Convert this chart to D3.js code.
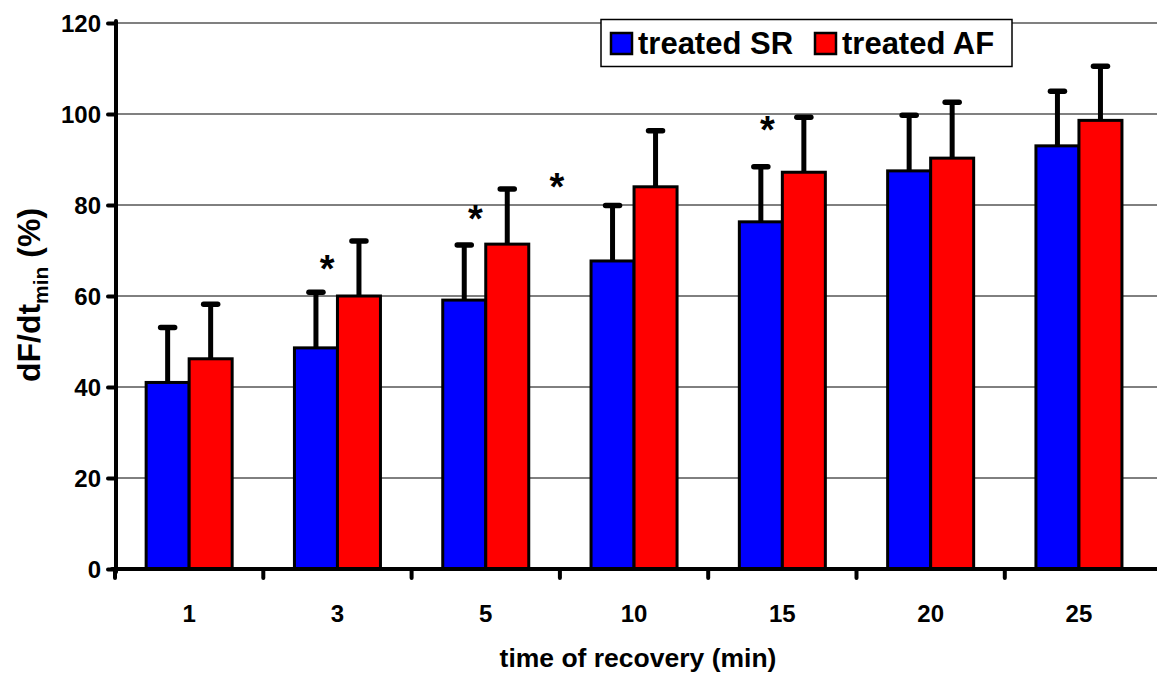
<!DOCTYPE html>
<html>
<head>
<meta charset="utf-8">
<script src="https://cdn.jsdelivr.net/npm/d3@7"></script>
<style>
  html, body { margin: 0; padding: 0; background: #fff; }
  svg { display: block; }
  text { font-family: "Liberation Sans", Arial, sans-serif; font-weight: bold; fill: #000; }
</style>
</head>
<body>
<svg id="chart" width="1157" height="673"></svg>
<script>
// ---- data ----
const categories = ["1", "3", "5", "10", "15", "20", "25"];
const seriesNames = ["treated SR", "treated AF"];
const seriesColors = ["#0000ff", "#ff0000"];
const srMean = [41.0, 48.6, 59.1, 67.7, 76.3, 87.5, 93.0];
const srSD   = [12.1, 12.2, 12.1, 12.2, 12.1, 12.2, 12.0];
const afMean = [46.2, 60.0, 71.4, 84.0, 87.2, 90.3, 98.6];
const afSD   = [12.0, 12.1, 12.1, 12.3, 12.1, 12.3, 11.9];
const yTicks = [0, 20, 40, 60, 80, 100, 120];
// significance markers: category, offset from category centre (fraction of step), value
const starCats   = ["3", "5", "5", "15"];
const starOffset = [-0.07, -0.07, 0.48, -0.10];
const starValue  = [66.8, 77.8, 84.8, 97.4];

// ---- layout ----
const svg = d3.select("#chart");
const mLeft = 116, mTop = 23, mBottom = 569;
const step = 148.3;
const mRight = 115 + step * categories.length;

const y = d3.scaleLinear().domain([0, 120]).range([mBottom, mTop]);
const x0 = d3.scaleBand().domain(categories).range([115, mRight])
  .paddingInner(0.42).paddingOuter(0.21);
const x1 = d3.scaleBand().domain(seriesNames).range([0, x0.bandwidth()]);
const center = c => x0(c) + x0.bandwidth() / 2;

// gridlines
svg.append("g").selectAll("line").data(yTicks.filter(d => d > 0)).join("line")
  .attr("x1", mLeft).attr("x2", 1157)
  .attr("y1", d => y(d)).attr("y2", d => y(d))
  .attr("stroke", d => d >= 100 ? "#808080" : "#000")
  .attr("stroke-width", d => d >= 100 ? 2 : 1);

// bars
const rows = categories.map((c, i) => ({
  cat: c,
  vals: [
    {s: seriesNames[0], v: srMean[i], e: srSD[i], col: seriesColors[0]},
    {s: seriesNames[1], v: afMean[i], e: afSD[i], col: seriesColors[1]}
  ]
}));

const groups = svg.append("g").selectAll("g").data(rows).join("g")
  .attr("transform", d => `translate(${x0(d.cat)},0)`);

groups.selectAll("rect").data(d => d.vals).join("rect")
  .attr("x", d => x1(d.s))
  .attr("width", x1.bandwidth())
  .attr("y", d => y(d.v))
  .attr("height", d => y(0) - y(d.v))
  .attr("fill", d => d.col)
  .attr("stroke", "#000").attr("stroke-width", 3);

// error bars
groups.selectAll("line.err").data(d => d.vals).join("line").attr("class", "err")
  .attr("x1", d => x1(d.s) + x1.bandwidth() / 2).attr("x2", d => x1(d.s) + x1.bandwidth() / 2)
  .attr("y1", d => y(d.v)).attr("y2", d => y(d.v + d.e))
  .attr("stroke", "#000").attr("stroke-width", 5);
groups.selectAll("line.cap").data(d => d.vals).join("line").attr("class", "cap")
  .attr("x1", d => x1(d.s) + x1.bandwidth() / 2 - 7).attr("x2", d => x1(d.s) + x1.bandwidth() / 2 + 7)
  .attr("y1", d => y(d.v + d.e)).attr("y2", d => y(d.v + d.e))
  .attr("stroke", "#000").attr("stroke-width", 5.5).attr("stroke-linecap", "round");

// stars
svg.append("g").selectAll("text").data(starCats.map((c, i) => ({c, o: starOffset[i], v: starValue[i]})))
  .join("text")
  .attr("x", d => center(d.c) + d.o * step)
  .attr("y", d => y(d.v) + 17)
  .attr("text-anchor", "middle")
  .attr("font-size", 38)
  .text("*");

// y axis
const yAxis = svg.append("g").attr("transform", `translate(${mLeft},0)`)
  .call(d3.axisLeft(y).tickValues(yTicks).tickSize(8).tickPadding(7));
yAxis.select(".domain").remove();
yAxis.selectAll(".tick line").attr("stroke", "#000").attr("stroke-width", 4).attr("stroke-linecap", "round");
yAxis.selectAll(".tick text").attr("font-size", 24).attr("font-family", "Liberation Sans, Arial, sans-serif")
  .attr("font-weight", "bold").attr("dy", "0.36em");
svg.append("line").attr("x1", mLeft).attr("x2", mLeft).attr("y1", mTop - 2).attr("y2", mBottom + 3)
  .attr("stroke", "#000").attr("stroke-width", 4).attr("stroke-linecap", "round");

// x axis ticks at category boundaries
const boundaries = categories.map(c => center(c) - step / 2);
svg.append("g").selectAll("line").data(boundaries).join("line")
  .attr("x1", d => d).attr("x2", d => d).attr("y1", mBottom).attr("y2", mBottom + 9)
  .attr("stroke", "#000").attr("stroke-width", 4).attr("stroke-linecap", "round");
svg.append("line").attr("x1", mLeft - 4).attr("x2", 1157).attr("y1", mBottom).attr("y2", mBottom)
  .attr("stroke", "#000").attr("stroke-width", 4).attr("stroke-linecap", "round");

svg.append("g").selectAll("text").data(categories).join("text")
  .attr("x", d => center(d)).attr("y", 622)
  .attr("text-anchor", "middle").attr("font-size", 24)
  .text(d => d);

// axis titles
svg.append("text").attr("x", 638).attr("y", 667).attr("text-anchor", "middle")
  .attr("font-size", 26.5).text("time of recovery (min)");

const yt = svg.append("text").attr("transform", "translate(40,295) rotate(-90)")
  .attr("text-anchor", "middle").attr("font-size", 32);
yt.append("tspan").text("dF/dt");
yt.append("tspan").attr("font-size", 21).attr("dy", 8).text("min");
yt.append("tspan").attr("dy", -8).text(" (%)");

// legend
const lg = svg.append("g");
lg.append("rect").attr("x", 601).attr("y", 19.5).attr("width", 411).attr("height", 47)
  .attr("fill", "#fff").attr("stroke", "#000").attr("stroke-width", 1.5);
const legX = [611, 815];
seriesNames.forEach((s, i) => {
  lg.append("rect").attr("x", legX[i]).attr("y", 33).attr("width", 21).attr("height", 21)
    .attr("fill", seriesColors[i]).attr("stroke", "#000").attr("stroke-width", 2.5);
  lg.append("text").attr("x", legX[i] + 27).attr("y", 54).attr("font-size", 31).text(s);
});
</script>
</body>
</html>
